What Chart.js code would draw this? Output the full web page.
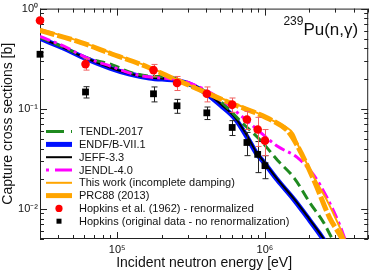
<!DOCTYPE html>
<html>
<head>
<meta charset="utf-8">
<script src="https://cdn.jsdelivr.net/npm/chart.js@4"></script>
<style>
html, body { margin: 0; padding: 0; background: #fff; }
</style>
</head>
<body>
<canvas id="myChart" width="373" height="273"></canvas>
<script>
// energies in eV, cross sections in barn
const hopE = [3.0e4, 6.1e4, 1.76e5, 2.54e5, 4.04e5, 6.0e5, 7.55e5, 8.93e5, 1.0e6];
const hopRenS = [0.76, 0.279, 0.243, 0.181, 0.141, 0.110, 0.078, 0.062, 0.048];
const hopRenErr = [0.03, 0.036, 0.034, 0.029, 0.024, 0.018, 0.016, 0.020, 0.014];
const hopOrigS = [0.35, 0.147, 0.141, 0.107, 0.091, 0.065, 0.046, 0.035, 0.027];
const hopOrigErr = [0.015, 0.019, 0.024, 0.017, 0.013, 0.011, 0.012, 0.012, 0.007];

const endfE = [3.0e4, 4.35e4, 5.64e4, 8.94e4, 1.216e5, 1.652e5, 2.618e5, 3.296e5, 3.96e5, 5.06e5, 6.28e5, 7.67e5, 8.67e5, 9.95e5, 1.216e6, 1.578e6, 1.927e6, 2.316e6, 2.6e6];
const endfS = [0.505, 0.402, 0.335, 0.255, 0.222, 0.203, 0.189, 0.169, 0.144, 0.107, 0.0796, 0.0505, 0.0367, 0.0285, 0.0194, 0.0123, 0.00833, 0.00578, 0.0045];

const jeffE = [3.0e4, 4.35e4, 5.64e4, 8.94e4, 1.216e5, 1.652e5, 2.618e5, 3.296e5, 3.96e5, 5.06e5, 6.28e5, 7.67e5, 8.67e5, 9.95e5, 1.216e6, 1.578e6, 1.927e6, 2.316e6, 2.6e6];
const jeffS = [0.51, 0.405, 0.338, 0.258, 0.224, 0.205, 0.192, 0.172, 0.147, 0.110, 0.0815, 0.052, 0.0375, 0.029, 0.0197, 0.0125, 0.0085, 0.0059, 0.0046];

const tendlE = [3.0e4, 4.35e4, 6.28e4, 9.36e4, 1.216e5, 1.652e5, 2.425e5, 3.296e5, 4.15e5, 5.22e5, 6.88e5, 9.35e5, 1.216e6, 1.578e6, 2.018e6, 2.5e6, 2.827e6, 3.148e6];
const tendlS = [0.516, 0.411, 0.320, 0.273, 0.232, 0.212, 0.203, 0.165, 0.144, 0.112, 0.0743, 0.0482, 0.0306, 0.0203, 0.01146, 0.00726, 0.00516, 0.00393];

const jendlE = [3.0e4, 4.35e4, 6.28e4, 9.36e4, 1.216e5, 1.652e5, 2.618e5, 3.96e5, 5.22e5, 6.88e5, 9.35e5, 1.216e6, 1.652e6, 2.143e6, 2.618e6, 3.2e6, 3.557e6, 3.84e6];
const jendlS = [0.528, 0.421, 0.320, 0.261, 0.227, 0.207, 0.194, 0.154, 0.120, 0.0853, 0.0578, 0.0421, 0.0327, 0.0217, 0.01315, 0.00695, 0.0046, 0.0035];

const thisE = [3.0e4, 5.64e4, 8.94e4, 1.603e5, 2.35e5, 4.025e5, 5.99e5, 8.93e5, 1.091e6, 1.374e6, 1.553e6, 1.702e6, 2.143e6, 2.618e6, 3.148e6, 3.557e6];
const thisS = [0.625, 0.468, 0.364, 0.265, 0.206, 0.146, 0.115, 0.0905, 0.0778, 0.0664, 0.0565, 0.0411, 0.0207, 0.0123, 0.00695, 0.0046];

const prcE = [3.0e4, 5.64e4, 8.94e4, 1.603e5, 2.35e5, 4.025e5, 5.99e5, 8.93e5, 1.124e6, 1.416e6, 1.652e6, 2.143e6, 2.742e6, 3.296e6, 3.557e6];
const prcS = [0.605, 0.461, 0.358, 0.261, 0.203, 0.144, 0.112, 0.0892, 0.076, 0.0606, 0.0430, 0.0194, 0.00814, 0.00516, 0.0041];

const xMin = 3e4, xMax = 5e6, yMin = 0.005, yMax = 1;

function pts(xs, ys) {
    return xs.map((x, i) => ({ x: x, y: ys[i] }));
}

const SUP = { '0': '\u2070', '1': '\u00B9', '2': '\u00B2', '3': '\u00B3', '4': '\u2074', '5': '\u2075', '6': '\u2076', '7': '\u2077', '8': '\u2078', '9': '\u2079', '-': '\u207B' };
function decadeLabel(v) {
    const l = Math.log10(v);
    if (Math.abs(l - Math.round(l)) > 1e-9) return '';
    return '10' + String(Math.round(l)).split('').map(c => SUP[c]).join('');
}

const FONT = 'Liberation Sans, Arial, Helvetica, sans-serif';

// legend drawn by hand, in the order of the reference
const legendOrder = [5, 7, 6, 4, 3, 2, 0, 1];

const frameTicks = {
    id: 'frameTicks',
    beforeDatasetsDraw(chart) {
        const { ctx, chartArea: a } = chart;
        const xs = chart.scales.x, ys = chart.scales.y;
        ctx.save();
        ctx.strokeStyle = '#222';
        ctx.lineWidth = 1;
        ctx.strokeRect(a.left + 0.5, a.top + 0.5, a.right - a.left - 1, a.bottom - a.top - 1);
        ctx.beginPath();
        for (let n = Math.floor(Math.log10(xMin)); n <= Math.ceil(Math.log10(xMax)); n++) {
            for (let k = 1; k <= 9; k++) {
                const v = k * Math.pow(10, n);
                if (v < xMin || v > xMax) continue;
                const px = Math.round(xs.getPixelForValue(v)) + 0.5;
                const len = k === 1 ? 7 : 4;
                ctx.moveTo(px, a.bottom); ctx.lineTo(px, a.bottom - len);
                ctx.moveTo(px, a.top); ctx.lineTo(px, a.top + len);
            }
        }
        for (let n = Math.floor(Math.log10(yMin)); n <= Math.ceil(Math.log10(yMax)); n++) {
            for (let k = 1; k <= 9; k++) {
                const v = k * Math.pow(10, n);
                if (v < yMin || v > yMax) continue;
                const py = Math.round(ys.getPixelForValue(v)) + 0.5;
                const len = k === 1 ? 7 : 4;
                ctx.moveTo(a.left, py); ctx.lineTo(a.left + len, py);
                ctx.moveTo(a.right, py); ctx.lineTo(a.right - len, py);
            }
        }
        ctx.stroke();
        ctx.restore();
    }
};

const errorBars = {
    id: 'errorBars',
    beforeDatasetDraw(chart, args) {
        const ds = chart.data.datasets[args.index];
        if (!ds.errors) return;
        const { ctx } = chart;
        const xs = chart.scales.x, ys = chart.scales.y;
        ctx.save();
        ctx.strokeStyle = ds.errorColor;
        ctx.lineWidth = 1;
        ctx.beginPath();
        ds.data.forEach((p, i) => {
            const px = Math.round(xs.getPixelForValue(p.x)) + 0.5;
            const lo = ys.getPixelForValue(p.y - ds.errors[i]);
            const hi = ys.getPixelForValue(p.y + ds.errors[i]);
            ctx.moveTo(px, lo); ctx.lineTo(px, hi);
            ctx.moveTo(px - 3, lo); ctx.lineTo(px + 3, lo);
            ctx.moveTo(px - 3, hi); ctx.lineTo(px + 3, hi);
        });
        ctx.stroke();
        ctx.restore();
    }
};

const handLegend = {
    id: 'handLegend',
    afterDraw(chart) {
        const { ctx, chartArea: a } = chart;
        const x0 = a.left + 6, x1 = a.left + 32, tx = a.left + 39;
        ctx.save();
        ctx.font = '11px ' + FONT;
        ctx.textBaseline = 'middle';
        ctx.fillStyle = '#111';
        legendOrder.forEach((idx, row) => {
            const ds = chart.data.datasets[idx];
            const y = a.top + 123 + row * 12.8;
            if (ds.showLine) {
                ctx.save();
                ctx.strokeStyle = ds.borderColor;
                ctx.lineWidth = ds.borderWidth;
                ctx.setLineDash(ds.legendDash || ds.borderDash || []);
                ctx.beginPath();
                ctx.moveTo(x0, y); ctx.lineTo(x1, y);
                ctx.stroke();
                ctx.restore();
            } else {
                ctx.save();
                ctx.fillStyle = ds.backgroundColor;
                const cx = (x0 + x1) / 2;
                if (ds.pointStyle === 'rect') {
                    ctx.fillRect(cx - 2.5, y - 2.5, 5, 5);
                } else {
                    ctx.beginPath(); ctx.arc(cx, y, 3.6, 0, Math.PI * 2); ctx.fill();
                }
                ctx.restore();
            }
            ctx.fillText(ds.label, tx, y + 0.5);
        });
        // reaction label
        ctx.textBaseline = 'alphabetic';
        ctx.textAlign = 'right';
        ctx.font = '17px ' + FONT;
        const main = 'Pu(n,\u03B3)';
        const rx = a.right - 10;
        ctx.fillText(main, rx, 35);
        const w = ctx.measureText(main).width;
        ctx.font = '12px ' + FONT;
        ctx.fillText('239', rx - w, 25);
        ctx.restore();
    }
};

const config = {
    type: 'scatter',
    data: {
        datasets: [
            {
                label: 'Hopkins et al. (1962) - renormalized',
                data: pts(hopE, hopRenS),
                errors: hopRenErr,
                errorColor: '#f06060',
                showLine: false,
                pointStyle: 'circle',
                pointRadius: 4.3,
                backgroundColor: '#ff0000',
                borderColor: '#ff0000',
                borderWidth: 0,
                clip: false,
            },
            {
                label: 'Hopkins (original data - no renormalization)',
                data: pts(hopE, hopOrigS),
                errors: hopOrigErr,
                errorColor: '#222',
                showLine: false,
                pointStyle: 'rect',
                pointRadius: 4.8,
                backgroundColor: '#000',
                borderColor: '#000',
                borderWidth: 0,
                clip: false,
            },
            {
                label: 'PRC88 (2013)',
                data: pts(prcE, prcS),
                showLine: true,
                borderColor: '#ffa500',
                borderWidth: 5,
                borderDash: [15, 3],
                legendDash: [],
                pointRadius: 0,
            },
            {
                label: 'This work (incomplete damping)',
                data: pts(thisE, thisS),
                showLine: true,
                borderColor: '#ffa500',
                borderWidth: 2,
                pointRadius: 0,
            },
            {
                label: 'JENDL-4.0',
                data: pts(jendlE, jendlS),
                showLine: true,
                borderColor: '#ff00ff',
                borderWidth: 3,
                borderDash: [11, 4, 3, 4],
                legendDash: [3, 6, 20, 4],
                pointRadius: 0,
            },
            {
                label: 'TENDL-2017',
                data: pts(tendlE, tendlS),
                showLine: true,
                borderColor: '#1f8a1f',
                borderWidth: 3,
                borderDash: [10, 5],
                legendDash: [18, 7, 2, 4],
                pointRadius: 0,
            },
            {
                label: 'JEFF-3.3',
                data: pts(jeffE, jeffS),
                showLine: true,
                borderColor: '#000',
                borderWidth: 2,
                pointRadius: 0,
            },
            {
                label: 'ENDF/B-VII.1',
                data: pts(endfE, endfS),
                showLine: true,
                borderColor: '#0010ff',
                borderWidth: 5,
                pointRadius: 0,
            },
        ]
    },
    options: {
        responsive: false,
        maintainAspectRatio: false,
        devicePixelRatio: 1,
        animation: false,
        events: [],
        layout: { padding: { top: 7, right: 1, left: 0, bottom: 0 } },
        elements: { line: { cubicInterpolationMode: 'monotone' } },
        plugins: {
            legend: { display: false },
            tooltip: { enabled: false },
        },
        scales: {
            x: {
                type: 'logarithmic',
                min: xMin,
                max: xMax,
                grid: { display: false, drawTicks: false },
                border: { display: false },
                ticks: {
                    autoSkip: false,
                    maxRotation: 0,
                    padding: 4,
                    color: '#111',
                    font: { family: FONT, size: 11 },
                    callback: (v) => decadeLabel(v),
                },
                title: {
                    display: true,
                    text: 'Incident neutron energy [eV]',
                    color: '#111',
                    font: { family: FONT, size: 14 },
                    padding: { top: 0, bottom: 1 },
                },
                afterFit: (s) => { s.height = 34; },
            },
            y: {
                type: 'logarithmic',
                min: yMin,
                max: yMax,
                grid: { display: false, drawTicks: false },
                border: { display: false },
                ticks: {
                    autoSkip: false,
                    padding: 2,
                    color: '#111',
                    font: { family: FONT, size: 11 },
                    callback: (v) => decadeLabel(v),
                },
                title: {
                    display: true,
                    text: 'Capture cross sections [b]',
                    color: '#111',
                    font: { family: FONT, size: 14 },
                    padding: { top: 0, bottom: 0 },
                },
                afterFit: (s) => { s.width = 40; },
            },
        },
    },
    plugins: [frameTicks, errorBars, handLegend],
};

const chart = new Chart(document.getElementById('myChart').getContext('2d'), config);
</script>
</body>
</html>
